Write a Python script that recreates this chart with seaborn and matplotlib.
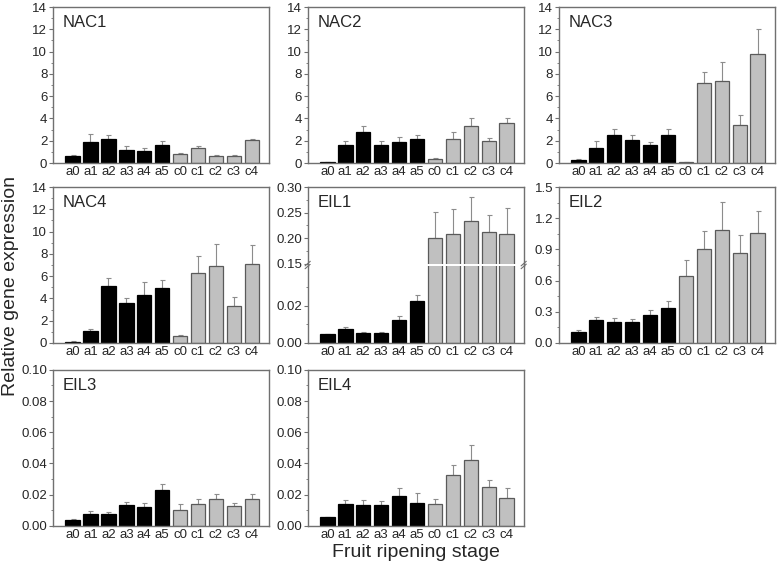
import numpy as np
import pandas as pd
import seaborn as sns
import matplotlib.pyplot as plt
from matplotlib.ticker import MultipleLocator, FormatStrFormatter, FixedLocator

sns.set_style("white")
plt.rcParams['font.family'] = ['Liberation Sans', 'DejaVu Sans']

etapas = ['a0', 'a1', 'a2', 'a3', 'a4', 'a5', 'c0', 'c1', 'c2', 'c3', 'c4']

# medias y desviaciones
nac1 = [0.62, 1.85, 2.17, 1.16, 1.04, 1.64, 0.80, 1.34, 0.65, 0.65, 2.08]
nac1_sd = [0.06, 0.77, 0.36, 0.33, 0.30, 0.32, 0.09, 0.15, 0.05, 0.09, 0.12]
nac2 = [0.10, 1.62, 2.78, 1.65, 1.92, 2.16, 0.39, 2.19, 3.35, 2.00, 3.56]
nac2_sd = [0.02, 0.33, 0.57, 0.30, 0.45, 0.39, 0.09, 0.56, 0.65, 0.25, 0.51]
nac3 = [0.30, 1.38, 2.51, 2.03, 1.62, 2.51, 0.09, 7.21, 7.33, 3.38, 9.82]
nac3_sd = [0.03, 0.57, 0.51, 0.51, 0.30, 0.51, 0.03, 0.93, 1.77, 0.93, 2.25]
nac4 = [0.12, 1.05, 5.09, 3.56, 4.34, 4.94, 0.60, 6.29, 6.92, 3.29, 7.10]
nac4_sd = [0.03, 0.18, 0.75, 0.45, 1.14, 0.75, 0.15, 1.52, 2.00, 0.84, 1.70]
eil1 = [0.0046, 0.0075, 0.0054, 0.0052, 0.0123, 0.0225, 0.200, 0.208, 0.233, 0.211, 0.208]
eil1_sd = [0.0004, 0.0013, 0.0006, 0.0005, 0.0023, 0.0034, 0.051, 0.048, 0.047, 0.035, 0.051]
eil2 = [0.108, 0.223, 0.198, 0.201, 0.271, 0.338, 0.645, 0.906, 1.082, 0.865, 1.060]
eil2_sd = [0.017, 0.023, 0.038, 0.026, 0.050, 0.070, 0.155, 0.174, 0.278, 0.170, 0.210]
eil3 = [0.0038, 0.0077, 0.0077, 0.0132, 0.0123, 0.0228, 0.0100, 0.0138, 0.0170, 0.0126, 0.0174]
eil3_sd = [0.0005, 0.0017, 0.0012, 0.0019, 0.0024, 0.0038, 0.0038, 0.0032, 0.0032, 0.0019, 0.0028]
eil4 = [0.0054, 0.0139, 0.0137, 0.0133, 0.0191, 0.0148, 0.0141, 0.0324, 0.0420, 0.0248, 0.0180]
eil4_sd = [0.0005, 0.0028, 0.0030, 0.0026, 0.0050, 0.0060, 0.0033, 0.0069, 0.0097, 0.0045, 0.0065]

colores = ['#000000'] * 6 + ['#c0c0c0'] * 5
bordes = ['#000000'] * 6 + ['#5a5a5a'] * 5
spine_col = '#707070'


def barras(ax, vals, sd, ylim, paso, fmt, titulo=None, xlabels=True):
    df = pd.DataFrame({'etapa': etapas, 'valor': vals})
    sns.barplot(data=df, x='etapa', y='valor', hue='etapa', palette=colores,
                legend=False, width=0.8, ax=ax, zorder=2)
    for p, b in zip(ax.patches, bordes):
        p.set_edgecolor(b)
        p.set_linewidth(0.9)
    x = np.arange(len(etapas))
    ax.errorbar(x, vals, yerr=[np.zeros(len(sd)), sd], fmt='none',
                ecolor='#8c8c8c', elinewidth=0.8, capsize=1.8, capthick=0.8, zorder=1)
    ax.set_xlim(-1.1, 10.95)
    ax.set_ylim(*ylim)
    ax.yaxis.set_major_locator(MultipleLocator(paso))
    ax.yaxis.set_minor_locator(MultipleLocator(paso / 2))
    ax.yaxis.set_major_formatter(FormatStrFormatter(fmt))
    ax.tick_params(axis='y', which='major', direction='out', length=3, width=0.8,
                   color=spine_col, labelsize=9.5, pad=1, left=True)
    ax.tick_params(axis='y', which='minor', direction='out', length=1.8, width=0.6,
                   color=spine_col, left=True)
    ax.tick_params(axis='x', length=0, labelsize=9.5, pad=2)
    if not xlabels:
        ax.set_xticklabels([])
    ax.set_xlabel('')
    ax.set_ylabel('')
    for s in ax.spines.values():
        s.set_color(spine_col)
        s.set_linewidth(1)
    if titulo:
        ax.text(0.045, 0.95, titulo, transform=ax.transAxes, fontsize=12,
                va='top', ha='left')


fig = plt.figure(figsize=(7.77, 5.71), dpi=100)

lefts = [0.068, 0.396, 0.719]
bottoms = [0.7145, 0.3993, 0.079]
w = 0.278
h = 0.2732

ax = fig.add_axes([lefts[0], bottoms[0], w, h])
barras(ax, nac1, nac1_sd, (0, 14), 2, '%d', 'NAC1')
ax = fig.add_axes([lefts[1], bottoms[0], w, h])
barras(ax, nac2, nac2_sd, (0, 14), 2, '%d', 'NAC2')
ax = fig.add_axes([lefts[2], bottoms[0], w, h])
barras(ax, nac3, nac3_sd, (0, 14), 2, '%d', 'NAC3')

ax = fig.add_axes([lefts[0], bottoms[1], w, h])
barras(ax, nac4, nac4_sd, (0, 14), 2, '%d', 'NAC4')

# EIL1 con eje cortado
hh = (h - 0.005) / 2
ax_lo = fig.add_axes([lefts[1], bottoms[1], w, hh])
barras(ax_lo, eil1, eil1_sd, (0, 0.041), 0.02, '%.2f')
ax_lo.yaxis.set_major_locator(FixedLocator([0.0, 0.02]))
ax_lo.yaxis.set_minor_locator(FixedLocator([0.01, 0.03]))
ax_lo.spines['top'].set_visible(False)
ax_hi = fig.add_axes([lefts[1], bottoms[1] + hh + 0.005, w, hh])
barras(ax_hi, eil1, eil1_sd, (0.15, 0.30), 0.05, '%.2f', xlabels=False)
ax_hi.text(0.045, 0.9, 'EIL1', transform=ax_hi.transAxes, fontsize=12, va='top', ha='left')
ax_hi.spines['bottom'].set_visible(False)
ax_hi.tick_params(axis='x', bottom=False, labelbottom=False)
# marcas del corte
for xa in (0, 1):
    ax_lo.plot([xa - 0.012, xa + 0.012], [0.97, 1.03], transform=ax_lo.transAxes,
               color=spine_col, lw=0.8, clip_on=False)
    ax_hi.plot([xa - 0.012, xa + 0.012], [-0.03, 0.03], transform=ax_hi.transAxes,
               color=spine_col, lw=0.8, clip_on=False)
    ax_lo.plot([xa, xa], [1.0, 1.05], transform=ax_lo.transAxes,
               color=spine_col, lw=1, clip_on=False)

ax = fig.add_axes([lefts[2], bottoms[1], w, h])
barras(ax, eil2, eil2_sd, (0, 1.5), 0.3, '%.1f', 'EIL2')

ax = fig.add_axes([lefts[0], bottoms[2], w, h])
barras(ax, eil3, eil3_sd, (0, 0.10), 0.02, '%.2f', 'EIL3')
ax = fig.add_axes([lefts[1], bottoms[2], w, h])
barras(ax, eil4, eil4_sd, (0, 0.10), 0.02, '%.2f', 'EIL4')

fig.text(0.535, 0.033, 'Fruit ripening stage', ha='center', va='center', fontsize=14)
fig.text(0.014, 0.5, 'Relative gene expression', ha='center', va='center',
         rotation=90, fontsize=14)

fig.savefig('out.png', dpi=100, facecolor='white')
